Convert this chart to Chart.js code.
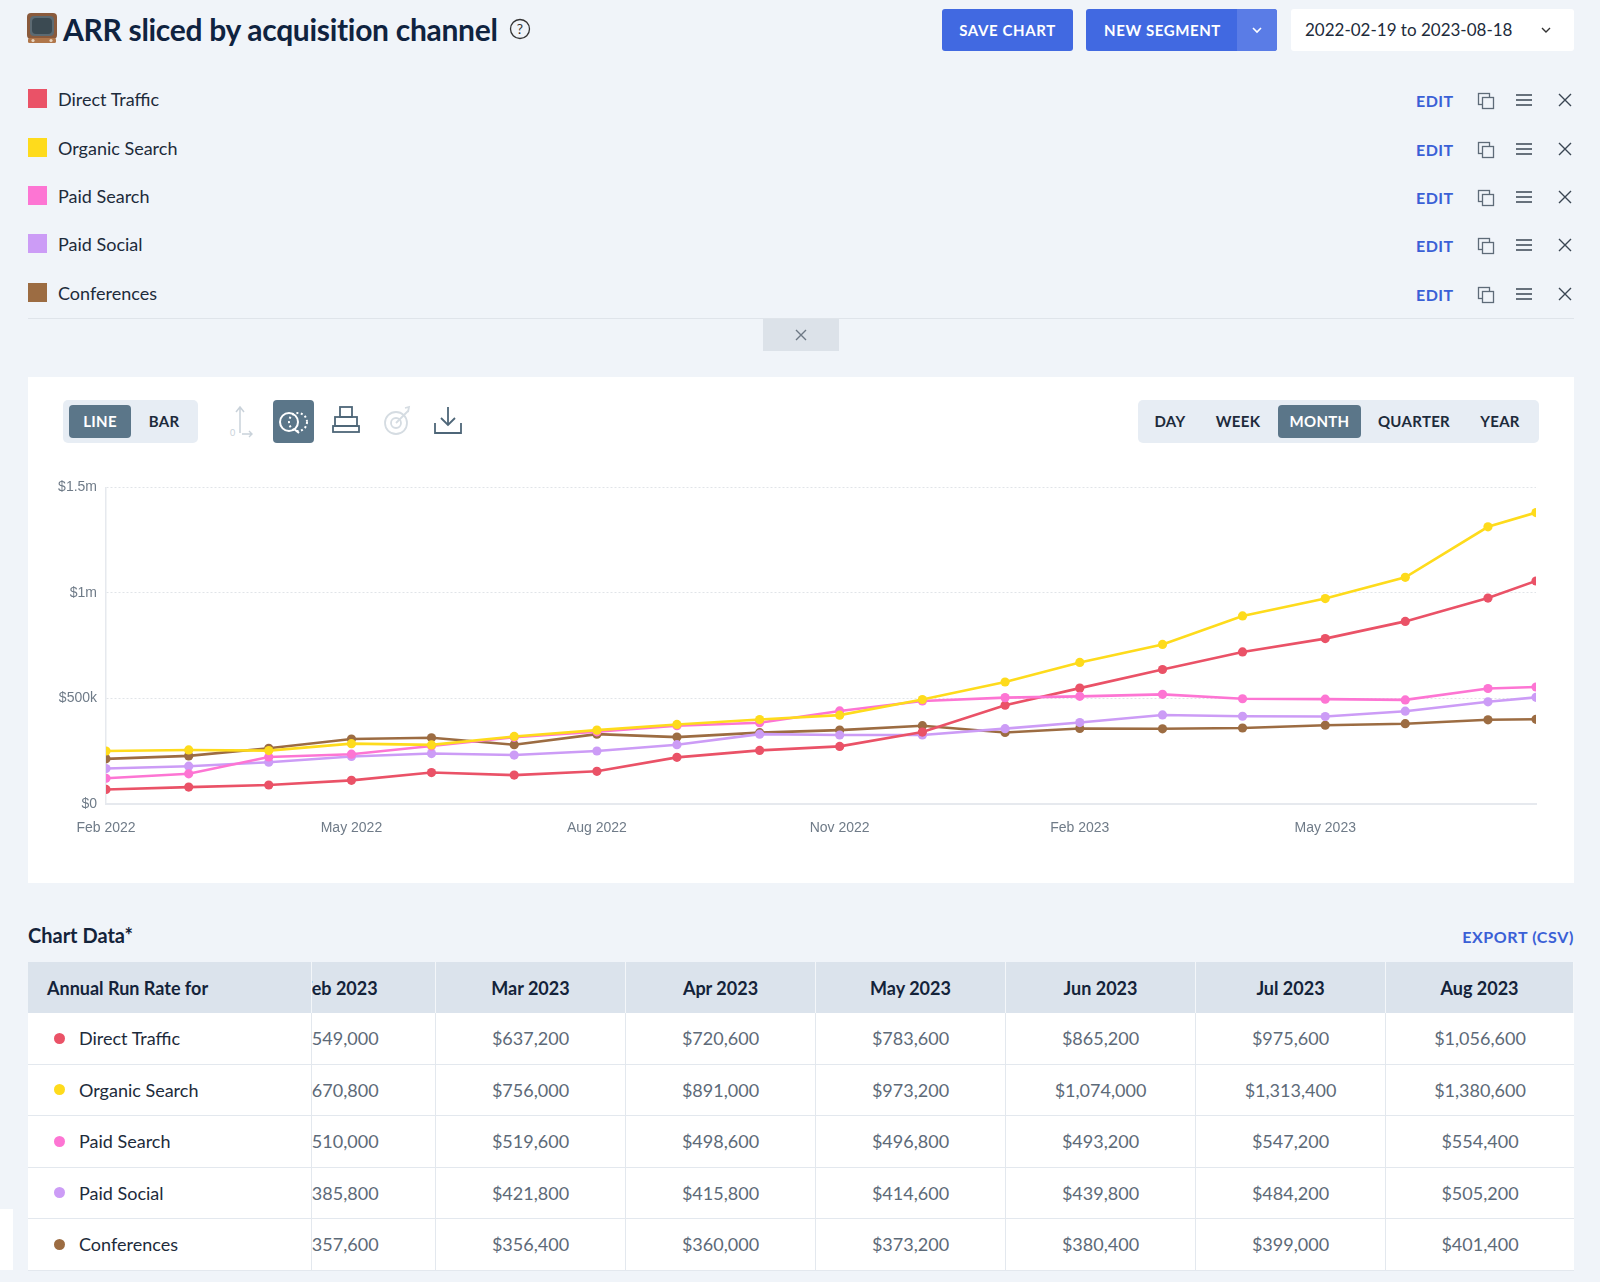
<!DOCTYPE html>
<html><head><meta charset="utf-8">
<script src="https://cdn.jsdelivr.net/npm/chart.js@4.4.1/dist/chart.umd.min.js"></script>
<style>
*{box-sizing:border-box}
html,body{margin:0;padding:0}
body{width:1600px;height:1282px;overflow:hidden;background:#f0f4f9;font-family:'Lato','Noto Sans',sans-serif;color:#14233a;position:relative}
.abs{position:absolute}
.btn{position:absolute;top:9px;height:42px;background:#4169e1;border-radius:3px;color:#fff;font-size:15px;font-weight:700;letter-spacing:0.6px;display:flex;align-items:center;justify-content:center}
.leg{position:absolute;left:0;width:1600px;height:30px}
.leg .sq{position:absolute;left:28px;top:5px;width:19px;height:19px}
.leg .nm{position:absolute;left:58px;top:3px;font-size:18px;color:#1d2b3b;line-height:24px}
.leg .edit{position:absolute;left:1416px;top:6px;font-size:16px;font-weight:700;color:#3a60d6;letter-spacing:0.5px;line-height:22px}
.leg svg{position:absolute}
.seg{position:absolute;top:400px;height:43px;background:#e7edf4;border-radius:5px}
.seg span{position:absolute;top:5px;height:33px;line-height:33px;font-size:15px;font-weight:700;color:#1d2b3b;text-align:center;letter-spacing:0.3px}
.seg span.on{background:#5b7689;color:#fff;border-radius:4px}
#tbl{position:absolute;left:28px;top:962px;width:1546px}
.row{display:flex;height:51.5px;background:#fff;border-bottom:1px solid #e3e8ee}
.row.h{background:#dbe3ec;height:51px;border-bottom:none}
.c{position:relative;overflow:hidden;flex:none;height:100%;display:flex;align-items:center;justify-content:center;font-size:18px;color:#5d6a78;border-right:1px solid #e3e8ee}
.row.h .c{color:#14233a;font-weight:700;border-right:1px solid #f3f6f9}
.c.first{width:284px;justify-content:flex-start;padding-left:19px;color:#1d2b3b}
.c.cut{width:124px}
.c.cut .in{position:absolute;right:0;width:190px;text-align:center}
.c.m{width:190px}
.c:last-child{border-right:none;flex:1 1 auto;width:auto}
.dot{width:11px;height:11px;border-radius:50%;margin-left:7px;margin-right:14px;flex:none}
</style></head>
<body>
<svg class="abs" style="left:26px;top:12px" width="32" height="34" viewBox="0 0 32 34">
  <rect x="1" y="1" width="30" height="26" rx="4" fill="#8a5a3c"/>
  <rect x="4" y="4" width="24" height="20" rx="4" fill="#5c6a72"/>
  <rect x="6" y="6" width="20" height="16" rx="4" fill="#3b4a52"/>
  <rect x="2" y="26" width="28" height="5" rx="1.5" fill="#b0764a"/>
  <circle cx="7" cy="28.5" r="1.6" fill="#e6d3bf"/><circle cx="25" cy="28.5" r="1.6" fill="#e6d3bf"/>
</svg>
<div class="abs" id="title" style="left:63px;top:9px;font-size:30px;font-weight:700;color:#0f2340;letter-spacing:-0.3px;line-height:40px">ARR sliced by acquisition channel</div>
<svg class="abs" id="help" style="left:509px;top:18px" width="22" height="22" viewBox="0 0 22 22"><circle cx="11" cy="11" r="9.5" fill="none" stroke="#333" stroke-width="1.3"/><text x="11" y="16" text-anchor="middle" font-size="14" font-family="Lato" fill="#333">?</text></svg>

<div class="btn" style="left:942px;width:131px">SAVE CHART</div>
<div class="btn" style="left:1086px;width:191px;justify-content:flex-start;padding-left:18px">NEW SEGMENT
  <div class="abs" style="left:151px;top:0;width:40px;height:42px;background:#5a7ce6;border-radius:0 3px 3px 0"></div>
  <svg class="abs" style="left:165px;top:16px" width="12" height="10" viewBox="0 0 12 10"><path d="M2 3 L6 7 L10 3" fill="none" stroke="#fff" stroke-width="1.6"/></svg>
</div>
<div class="abs" style="left:1291px;top:9px;width:283px;height:42px;background:#fff;border-radius:3px">
  <div class="abs" style="left:14px;top:9px;font-size:17px;color:#1d2b3b;line-height:24px">2022-02-19 to 2023-08-18</div>
  <svg class="abs" style="left:249px;top:16px" width="12" height="10" viewBox="0 0 12 10"><path d="M2 3 L6 7 L10 3" fill="none" stroke="#333" stroke-width="1.4"/></svg>
</div>

<div id="legend"></div>
<div class="abs" style="left:28px;top:318px;width:1546px;height:1px;background:#dfe4ea"></div>
<div class="abs" style="left:763px;top:319px;width:76px;height:32px;background:#dce2e9">
  <svg class="abs" style="left:32px;top:10px" width="12" height="12" viewBox="0 0 12 12"><path d="M1 1 L11 11 M11 1 L1 11" stroke="#6d7884" stroke-width="1.4"/></svg>
</div>

<div class="abs" style="left:28px;top:377px;width:1546px;height:506px;background:#fff"></div>
<div class="seg" style="left:63px;width:135px">
  <span class="on" style="left:6px;width:62px">LINE</span>
  <span style="left:72px;width:58px">BAR</span>
</div>
<svg class="abs" style="left:228px;top:403px" width="30" height="36" viewBox="0 0 30 36">
  <path d="M12 30 V5 M8 9 L12 4 L16 9" fill="none" stroke="#c9d2da" stroke-width="1.5"/>
  <text x="2" y="33" font-size="9" fill="#c9d2da" font-family="Lato">0</text>
  <path d="M14 31 H24 M21 28 L24 31 L21 34" fill="none" stroke="#c9d2da" stroke-width="1.4"/>
</svg>
<div class="abs" style="left:273px;top:400px;width:41px;height:43px;background:#5b7689;border-radius:4px"></div>
<svg class="abs" style="left:275px;top:405px" width="38" height="34" viewBox="0 0 38 34">
  <circle cx="14" cy="17" r="9" fill="none" stroke="#fff" stroke-width="2"/>
  <path d="M19 24 L24 28" stroke="#fff" stroke-width="2"/>
  <circle cx="23" cy="17" r="9" fill="none" stroke="#fff" stroke-width="2" stroke-dasharray="2 2.5"/>
</svg>
<svg class="abs" style="left:330px;top:403px" width="32" height="36" viewBox="0 0 32 36">
  <rect x="10" y="4" width="12" height="10" fill="none" stroke="#4e6678" stroke-width="1.8"/>
  <rect x="5" y="14" width="22" height="9" fill="none" stroke="#4e6678" stroke-width="1.8"/>
  <rect x="3" y="23" width="26" height="6" fill="none" stroke="#4e6678" stroke-width="1.8"/>
</svg>
<svg class="abs" style="left:381px;top:403px" width="34" height="36" viewBox="0 0 34 36">
  <circle cx="15" cy="20" r="11" fill="none" stroke="#d5dce2" stroke-width="1.8"/>
  <circle cx="15" cy="20" r="5" fill="none" stroke="#d5dce2" stroke-width="1.8"/>
  <path d="M15 20 L27 8 M24 5 L28 4 L27 9" fill="none" stroke="#d5dce2" stroke-width="1.8"/>
</svg>
<svg class="abs" style="left:432px;top:403px" width="32" height="36" viewBox="0 0 32 36">
  <path d="M16 4 V22 M9 15 L16 22 L23 15" fill="none" stroke="#4e6678" stroke-width="1.8"/>
  <path d="M3 20 V30 H29 V20" fill="none" stroke="#4e6678" stroke-width="1.8"/>
</svg>
<div class="seg" style="left:1138px;width:401px">
  <span style="left:10px;width:44px">DAY</span>
  <span style="left:66px;width:68px">WEEK</span>
  <span class="on" style="left:140px;width:83px">MONTH</span>
  <span style="left:230px;width:92px">QUARTER</span>
  <span style="left:330px;width:64px">YEAR</span>
</div>
<div class="abs" style="left:40px;top:470px;width:1510px;height:380px"><canvas id="c"></canvas></div>

<div class="abs" style="left:28px;top:921px;font-size:20px;font-weight:700;color:#14233a;line-height:28px">Chart Data*</div>
<div class="abs" style="right:26px;top:926px;font-size:16px;font-weight:700;color:#3a60d6;letter-spacing:0.6px;line-height:22px">EXPORT (CSV)</div>
<div id="tbl"></div>
<div class="abs" style="left:0;top:1209px;width:13px;height:61px;background:#fff;font-size:20px;line-height:61px;color:#222;overflow:hidden;text-indent:-5px">‹</div>

<script>
const seriesNames = ['Direct Traffic','Organic Search','Paid Search','Paid Social','Conferences'];
const seriesColors = ['#ea5267','#fedb1c','#fd75d3','#cc9cf6','#9c6c42'];
const periodEnds = ['2022-02-28','2022-03-31','2022-04-30','2022-05-31','2022-06-30','2022-07-31','2022-08-31','2022-09-30','2022-10-31','2022-11-30','2022-12-31','2023-01-31','2023-02-28','2023-03-31','2023-04-30','2023-05-31','2023-06-30','2023-07-31','2023-08-18'];
const monthLabels = ['Feb 2022','Mar 2022','Apr 2022','May 2022','Jun 2022','Jul 2022','Aug 2022','Sep 2022','Oct 2022','Nov 2022','Dec 2022','Jan 2023','Feb 2023','Mar 2023','Apr 2023','May 2023','Jun 2023','Jul 2023','Aug 2023'];
const xTickLabels = ['Feb 2022','May 2022','Aug 2022','Nov 2022','Feb 2023','May 2023'];
const yTickValues = [0, 500000, 1000000, 1500000];
const yTickLabels = ['$0','$500k','$1m','$1.5m'];
const tableMonths = ['Feb 2023','Mar 2023','Apr 2023','May 2023','Jun 2023','Jul 2023','Aug 2023'];

const directTraffic = [69000, 80000, 90000, 112000, 149000, 137000, 155000, 221000, 254000, 273000, 341000, 468000, 549000, 637200, 720600, 783600, 865200, 975600, 1056600];
const organicSearch = [251000, 256000, 253000, 286000, 280000, 320000, 350000, 377000, 400000, 421000, 495000, 578000, 670800, 756000, 891000, 973200, 1074000, 1313400, 1380600];
const paidSearch    = [122000, 143000, 223000, 236000, 275000, 316000, 342000, 371000, 385000, 441000, 488000, 504000, 510000, 519600, 498600, 496800, 493200, 547200, 554400];
const paidSocial    = [168000, 179000, 198000, 225000, 239000, 232000, 251000, 281000, 331000, 327000, 327000, 357000, 385800, 421800, 415800, 414600, 439800, 484200, 505200];
const conferences   = [214000, 228000, 264000, 308000, 314000, 281000, 331000, 317000, 338000, 350000, 371000, 339000, 357600, 356400, 360000, 373200, 380400, 399000, 401400];
const seriesValues = [directTraffic, organicSearch, paidSearch, paidSocial, conferences];

const legendTops = [84, 133, 181, 229, 278];
const legend = document.getElementById('legend');
const iconCopy = '<svg style="left:1477px;top:8px" width="18" height="18" viewBox="0 0 18 18"><rect x="1.5" y="1.5" width="11" height="11" fill="none" stroke="#5e6b78" stroke-width="1.3"/><rect x="5.5" y="5.5" width="11" height="11" fill="#f0f4f9" stroke="#5e6b78" stroke-width="1.3"/></svg>';
const iconMenu = '<svg style="left:1515px;top:9px" width="18" height="14" viewBox="0 0 18 14"><path d="M1 2 H17 M1 7 H17 M1 12 H17" stroke="#3a4653" stroke-width="1.6"/></svg>';
const iconX = '<svg style="left:1558px;top:9px" width="14" height="14" viewBox="0 0 14 14"><path d="M1 1 L13 13 M13 1 L1 13" stroke="#3a4653" stroke-width="1.4"/></svg>';
seriesNames.forEach((n, i) => {
  const d = document.createElement('div');
  d.className = 'leg';
  d.style.top = legendTops[i] + 'px';
  d.innerHTML = `<div class="sq" style="background:${seriesColors[i]}"></div><div class="nm">${n}</div><div class="edit">EDIT</div>${iconCopy}${iconMenu}${iconX}`;
  legend.appendChild(d);
});

const fmt = v => '$' + v.toLocaleString('en-US');
const tbl = document.getElementById('tbl');
let html = '<div class="row h"><div class="c first">Annual Run Rate for</div>';
tableMonths.forEach((m, j) => {
  html += j === 0 ? `<div class="c cut"><div class="in">${m}</div></div>` : `<div class="c m">${m}</div>`;
});
html += '</div>';
seriesNames.forEach((n, i) => {
  html += `<div class="row"><div class="c first"><span class="dot" style="background:${seriesColors[i]}"></span>${n}</div>`;
  tableMonths.forEach((m, j) => {
    const v = seriesValues[i][monthLabels.indexOf(m)];
    html += j === 0 ? `<div class="c cut"><div class="in">${fmt(v)}</div></div>` : `<div class="c m">${fmt(v)}</div>`;
  });
  html += '</div>';
});
tbl.innerHTML = html;

const toDay = s => Date.parse(s + 'T00:00:00Z') / 86400000;
const xs = periodEnds.map(toDay);
const tickPos = xTickLabels.map(l => xs[monthLabels.indexOf(l)]);
const datasets = seriesNames.map((n, i) => ({
  label: n,
  data: seriesValues[i].map((v, k) => ({x: xs[k], y: v})),
  borderColor: seriesColors[i],
  backgroundColor: seriesColors[i],
  pointBackgroundColor: seriesColors[i],
  pointBorderWidth: 0,
  pointRadius: 4.6,
  borderWidth: 2.6,
  tension: 0,
  fill: false
}));
datasets[0].order = 2; datasets[1].order = 0; datasets[2].order = 1; datasets[3].order = 3; datasets[4].order = 4;

Chart.defaults.font.family = "'Liberation Sans', Arial, sans-serif";
new Chart(document.getElementById('c'), {
  type: 'line',
  data: {datasets},
  options: {
    responsive: true,
    maintainAspectRatio: false,
    animation: false,
    layout: {padding: {top: 16, right: 14, bottom: 10, left: 0}},
    plugins: {legend: {display: false}, tooltip: {enabled: false}},
    scales: {
      x: {
        type: 'linear',
        min: xs[0],
        max: xs[xs.length - 1],
        grid: {display: false, drawTicks: false},
        border: {display: true, color: '#e6e9ee', width: 2},
        afterBuildTicks: s => { s.ticks = tickPos.map(v => ({value: v})); },
        afterFit: s => { s.height = 36; },
        ticks: {
          autoSkip: false, maxRotation: 0, padding: 16,
          color: '#6f7b88', font: {size: 14},
          callback: v => { const k = tickPos.indexOf(v); return k >= 0 ? xTickLabels[k] : ''; }
        }
      },
      y: {
        min: yTickValues[0],
        max: yTickValues[yTickValues.length - 1],
        grid: {color: '#e1e4e8', drawTicks: false, lineWidth: 1},
        border: {display: true, color: '#e6e9ee', width: 1.5, dash: [2, 2]},
        afterBuildTicks: s => { s.ticks = yTickValues.map(v => ({value: v})); },
        afterFit: s => { s.width = 66; },
        ticks: {
          padding: 9, color: '#6f7b88', font: {size: 14},
          callback: v => yTickLabels[yTickValues.indexOf(v)]
        }
      }
    }
  }
});
</script>
</body></html>
